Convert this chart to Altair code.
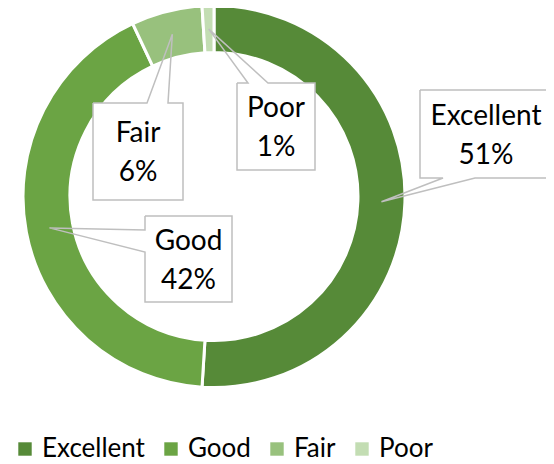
import math
import altair as alt
import pandas as pd

# ---- data ----
categories = ["Excellent", "Good", "Fair", "Poor"]
percent = [51, 42, 6, 1]
colors = ["#568A38", "#6BA444", "#98C17D", "#C3DDB3"]

# ---- layout (pixels in plot area) ----
W, H = 538, 456
CX, CY = 206, 188.5
R_OUT, R_IN = 191, 144
R_MID = (R_OUT + R_IN) / 2
LINE_H = 39
# box: (x0, x1, y0, y1), wedge edge, wedge base positions, text centre
boxes = {
    "Excellent": dict(b=(412, 544, 82, 170), edge="bottom", base=(435, 467), t=(478, 128)),
    "Good": dict(b=(137, 224, 208, 294), edge="left", base=(222, 244), t=(180.5, 253)),
    "Fair": dict(b=(85, 175, 95, 192), edge="top", base=(139, 160), t=(130, 145.5)),
    "Poor": dict(b=(229, 307, 75, 162), edge="top", base=(240, 260), t=(268, 120)),
}

df = pd.DataFrame({"cat": categories, "pct": percent, "idx": range(len(categories))})

total = sum(percent)
tips = {}
cum = 0
for c, v in zip(categories, percent):
    a = 2 * math.pi * (cum + v / 2) / total
    tips[c] = (CX + R_MID * math.sin(a), CY - R_MID * math.cos(a))
    cum += v

outline_rows, rect_rows, text_rows = [], [], []
for c, v in zip(categories, percent):
    L = boxes[c]
    x0, x1, y0, y1 = L["b"]
    b1, b2 = L["base"]
    tx, ty = tips[c]
    if L["edge"] == "top":
        pts = [(x0, y0), (b1, y0), (tx, ty), (b2, y0), (x1, y0), (x1, y1), (x0, y1), (x0, y0)]
    elif L["edge"] == "bottom":
        pts = [(x0, y0), (x1, y0), (x1, y1), (b2, y1), (tx, ty), (b1, y1), (x0, y1), (x0, y0)]
    else:  # left
        pts = [(x0, y0), (x1, y0), (x1, y1), (x0, y1), (x0, b2), (tx, ty), (x0, b1), (x0, y0)]
    for i, (px, py) in enumerate(pts):
        outline_rows.append({"cat": c, "o": i, "x": px, "y": py})
    rect_rows.append({"cat": c, "x0": x0, "x1": x1, "y0": y0, "y1": y1})
    text_rows.append({"cat": c, "label": f"{c}\n{v}%", "x": L["t"][0], "y": L["t"][1] - LINE_H / 2})

xs = alt.Scale(domain=[0, W], nice=False, zero=False)
ys = alt.Scale(domain=[0, H], nice=False, zero=False, reverse=True)

FONT = "Lato"

arcs = alt.Chart(df).mark_arc(outerRadius=R_OUT, innerRadius=R_IN, stroke="white", strokeWidth=3).encode(
    theta=alt.Theta("pct:Q", stack=True),
    order=alt.Order("idx:Q"),
    color=alt.Color(
        "cat:N",
        scale=alt.Scale(domain=categories, range=colors),
        legend=alt.Legend(
            title=None,
            orient="none",
            legendX=4,
            legendY=428,
            padding=0,
            direction="horizontal",
            symbolType="square",
            symbolSize=180,
            symbolStrokeWidth=0,
            labelFont=FONT,
            labelFontSize=26,
            labelColor="#000000",
            labelOffset=4,
            columnPadding=13,
        ),
    ),
    x=alt.value(CX),
    y=alt.value(CY),
)

rects = alt.Chart(pd.DataFrame(rect_rows)).mark_rect(fill="white").encode(
    x=alt.X("x0:Q", scale=xs, axis=None),
    x2="x1:Q",
    y=alt.Y("y0:Q", scale=ys, axis=None),
    y2="y1:Q",
)

outlines = alt.Chart(pd.DataFrame(outline_rows)).mark_line(
    color="#BFBFBF", strokeWidth=1.5, strokeJoin="miter"
).encode(
    x=alt.X("x:Q", scale=xs, axis=None),
    y=alt.Y("y:Q", scale=ys, axis=None),
    order="o:Q",
    detail="cat:N",
)

texts = alt.Chart(pd.DataFrame(text_rows)).mark_text(
    font=FONT, fontSize=28, lineBreak="\n", lineHeight=LINE_H, color="#000000", baseline="middle", align="center"
).encode(
    x=alt.X("x:Q", scale=xs, axis=None),
    y=alt.Y("y:Q", scale=ys, axis=None),
    text="label:N",
)

chart = alt.layer(arcs, rects, outlines, texts).properties(
    width=W, height=H, autosize="none", padding=0
).configure_view(stroke=None)

chart.save("out.html", embed_options={"renderer": "svg", "actions": False})
